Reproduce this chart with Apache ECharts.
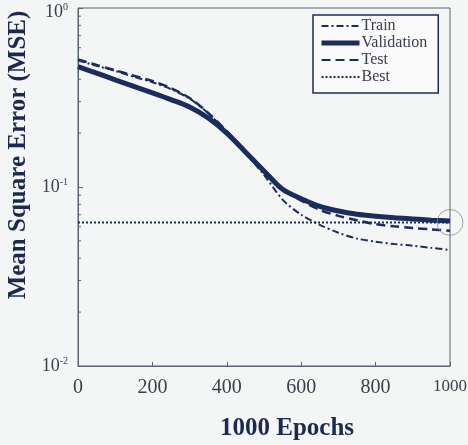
<!DOCTYPE html>
<html>
<head>
<meta charset="utf-8">
<script src="https://cdn.jsdelivr.net/npm/echarts@6/dist/echarts.min.js"></script>
<style>
  html, body { margin: 0; padding: 0; background: #f4f5f5; }
  #chart { width: 468px; height: 445px; }
</style>
</head>
<body>
<div id="chart"></div>
<script>
// 数据
const epochs = [0, 50, 100, 150, 200, 250, 300, 350, 400, 450, 500, 550, 600, 650, 700, 750, 800, 850, 900, 950, 1000]
const trainMse = [0.51, 0.475, 0.445, 0.413, 0.385, 0.352, 0.312, 0.258, 0.203, 0.155, 0.117, 0.085, 0.07, 0.0615, 0.0555, 0.0515, 0.0495, 0.048, 0.047, 0.0457, 0.0445]
const validationMse = [0.47, 0.433, 0.397, 0.365, 0.336, 0.308, 0.28, 0.243, 0.2, 0.157, 0.123, 0.097, 0.086, 0.078, 0.0735, 0.0705, 0.0687, 0.0673, 0.0663, 0.0653, 0.0645]
const testMse = [0.516, 0.48, 0.449, 0.418, 0.391, 0.357, 0.314, 0.259, 0.205, 0.159, 0.1245, 0.097, 0.084, 0.0745, 0.069, 0.0652, 0.062, 0.0603, 0.059, 0.058, 0.057]
const bestMse = 0.0634
const bestEpoch = 1000
const minorTickValues = [0.02, 0.03, 0.04, 0.05, 0.06, 0.07, 0.08, 0.09, 0.2, 0.3, 0.4, 0.5, 0.6, 0.7, 0.8, 0.9]

const navy = '#1b2d5c'
const axisColor = '#5b6270'
const labelColor = '#3a404c'
const serif = 'Liberation Serif'

const pairs = (ys) => epochs.map((x, i) => [x, ys[i]])

const chart = echarts.init(document.getElementById('chart'))

const option = {
  backgroundColor: '#f4f5f5',
  animation: false,
  grid: {
    left: 78,
    right: 18,
    top: 8,
    bottom: 79,
    outerBoundsMode: 'none',
    show: true,
    borderColor: axisColor,
    borderWidth: 1,
    backgroundColor: 'transparent',
  },
  legend: {
    data: [
      { name: 'Train' },
      { name: 'Validation', lineStyle: { width: 5 } },
      { name: 'Test' },
      { name: 'Best' },
    ],
    orient: 'vertical',
    left: 313,
    top: 15,
    itemWidth: 38,
    itemHeight: 14,
    itemGap: 1,
    padding: [3, 11, 8, 6],
    borderColor: navy,
    borderWidth: 1.5,
    backgroundColor: '#fafafa',
    itemStyle: { opacity: 0 },
    textStyle: {
      fontFamily: serif,
      fontSize: 16,
      color: labelColor,
      padding: [0, 0, 0, -3],
    },
  },
  xAxis: {
    type: 'value',
    min: 0,
    max: 1000,
    interval: 200,
    name: '1000 Epochs',
    nameLocation: 'middle',
    nameGap: 50,
    nameTextStyle: {
      fontFamily: serif,
      fontSize: 25,
      fontWeight: 'bold',
      color: '#1b2a4e',
      padding: [0, 0, 0, 46],
    },
    axisLine: { lineStyle: { color: axisColor, width: 1 } },
    axisTick: { inside: true, length: 4, lineStyle: { color: axisColor } },
    splitLine: { show: false },
    axisLabel: {
      margin: 12,
      fontFamily: serif,
      fontSize: 20,
      color: labelColor,
      formatter: function (value) {
        if (value === 1000) {
          return '{s|1000}'
        }
        return value
      },
      rich: {
        s: { fontFamily: serif, fontSize: 17, color: labelColor, padding: [0, 0, 6, 0] },
      },
    },
  },
  yAxis: {
    type: 'log',
    logBase: 10,
    min: 0.01,
    max: 1,
    name: 'Mean Square Error (MSE)',
    nameLocation: 'middle',
    nameGap: 44,
    nameTextStyle: {
      fontFamily: serif,
      fontSize: 25,
      fontWeight: 'bold',
      color: '#1b2a4e',
      padding: [0, 0, 0, 64],
    },
    axisLine: { show: true, lineStyle: { color: axisColor, width: 1 } },
    axisTick: { inside: true, length: 5, lineStyle: { color: axisColor } },
    splitLine: { show: false },
    axisLabel: {
      margin: 10,
      fontFamily: serif,
      fontSize: 18,
      color: labelColor,
      formatter: function (value) {
        const exp = Math.round(Math.log10(value))
        if (exp === 0) {
          // 顶部标签略往下
          return '{bt|10}{st|' + exp + '}'
        }
        return '{b|10}{s|' + exp + '}'
      },
      rich: {
        b: { fontFamily: serif, fontSize: 18, color: labelColor },
        s: { fontFamily: serif, fontSize: 10, color: labelColor, padding: [0, 0, 9, 0] },
        bt: { fontFamily: serif, fontSize: 18, color: labelColor, padding: [8, 0, 0, 0] },
        st: { fontFamily: serif, fontSize: 10, color: labelColor, padding: [0, 0, 1, 0] },
      },
    },
  },
  series: [
    {
      name: 'Validation',
      type: 'line',
      data: pairs(validationMse),
      symbol: 'none',
      smooth: 0.3,
      color: navy,
      lineStyle: { width: 5, color: navy },
      z: 2,
    },
    {
      name: 'Train',
      type: 'line',
      data: pairs(trainMse),
      symbol: 'none',
      smooth: 0.3,
      color: navy,
      lineStyle: { width: 2, color: navy, type: [7, 3, 2, 3] },
      z: 3,
    },
    {
      name: 'Test',
      type: 'line',
      data: pairs(testMse),
      symbol: 'none',
      smooth: 0.3,
      color: navy,
      lineStyle: { width: 2.5, color: navy, type: [9, 5] },
      z: 3,
    },
    {
      name: 'Best',
      type: 'line',
      data: [[0, bestMse], [1000, bestMse]],
      symbol: 'none',
      color: navy,
      lineStyle: { width: 2, color: navy, type: [2, 2] },
      z: 3,
    },
    {
      // 最佳点圆圈
      name: 'bestPoint',
      type: 'scatter',
      data: [[bestEpoch, bestMse]],
      symbol: 'circle',
      symbolSize: 26,
      clip: false,
      silent: true,
      itemStyle: { color: 'transparent', borderColor: '#8a8d92', borderWidth: 1 },
      z: 4,
    },
    {
      // 对数次刻度
      name: 'minorTicks',
      type: 'custom',
      data: minorTickValues.map((v) => [0, v]),
      silent: true,
      clip: false,
      renderItem: function (params, api) {
        const pt = api.coord([0, api.value(1)])
        return {
          type: 'line',
          shape: { x1: pt[0], y1: pt[1], x2: pt[0] + 3, y2: pt[1] },
          style: { stroke: axisColor, lineWidth: 1 },
        }
      },
      z: 5,
    },
  ],
}

chart.setOption(option)
</script>
</body>
</html>
